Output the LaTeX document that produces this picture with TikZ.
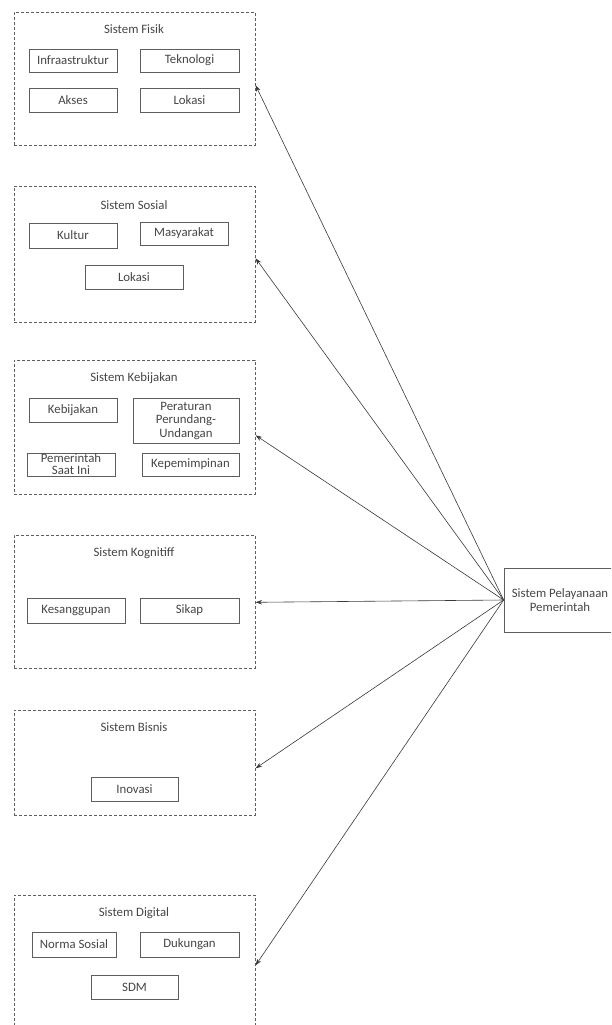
\documentclass[tikz,border=0pt]{standalone}
\usepackage{fontspec}
\setmainfont{Carlito}
\usetikzlibrary{arrows.meta}
\definecolor{ink}{HTML}{464646}
\definecolor{edge}{HTML}{5E5E5E}
\definecolor{wire}{HTML}{3A3A3A}

\begin{document}
\begin{tikzpicture}[x=1pt,y=-1pt,
  lbl/.style={font=\fontsize{12.8}{13.5}\selectfont, text=ink, inner sep=0pt, align=center},
  group/.style={draw=edge, dash pattern=on 3pt off 2pt, line width=0.6pt,
                inner sep=0pt, anchor=north west, minimum width=241},
  item/.style={draw=edge, line width=0.7pt, inner sep=1pt, lbl},
  link/.style={draw=wire, line width=0.6pt, -{Stealth[length=6.5pt,width=4.5pt]}}
]
\useasboundingbox (0,0) rectangle (611,1025);
\fill[white] (0,0) rectangle (611,1025);
\clip (0,0) rectangle (611,1025);

% Sistem Fisik
\node[group, minimum height=133] (fisik) at (14,12) {};
\node[lbl] (tfisik) at (134,29) {Sistem Fisik};
\node[item, minimum width=88, minimum height=23] (infra) at (73,60.5) {Infraastruktur};
\node[item, minimum width=99, minimum height=23] (tekno) at (189.5,60.5) {Teknologi};
\node[item, minimum width=88, minimum height=24] (akses) at (73,100) {Akses};
\node[item, minimum width=99, minimum height=24] (lokasia) at (189.5,100) {Lokasi};

% Sistem Sosial
\node[group, minimum height=136] (sosial) at (14,186) {};
\node[lbl] (tsosial) at (134,205) {Sistem Sosial};
\node[item, minimum width=88, minimum height=25] (kultur) at (73,235.5) {Kultur};
\node[item, minimum width=88, minimum height=23] (masy) at (184,233.5) {Masyarakat};
\node[item, minimum width=98, minimum height=24] (lokasib) at (134,277) {Lokasi};

% Sistem Kebijakan
\node[group, minimum height=134] (kebij) at (14,360) {};
\node[lbl] (tkebij) at (134,378) {Sistem Kebijakan};
\node[item, minimum width=88, minimum height=24] (kebijakan) at (73,410) {Kebijakan};
\node[item, minimum width=106, minimum height=45] (aturan) at (186,420.5) {Peraturan\\Perundang-\\Undangan};
\node[item, minimum width=88, minimum height=23] (pemerintah) at (71,464.5) {};
\node[lbl, font=\fontsize{12.8}{12}\selectfont] (tpemerintah) at (pemerintah) {Pemerintah\\Saat Ini};
\node[item, minimum width=97, minimum height=23] (pimpin) at (190.5,464.5) {Kepemimpinan};

% Sistem Kognitiff
\node[group, minimum height=133] (kognitif) at (14,535) {};
\node[lbl] (tkognitif) at (134,553) {Sistem Kognitiff};
\node[item, minimum width=98, minimum height=25] (sanggup) at (76,610.5) {Kesanggupan};
\node[item, minimum width=99, minimum height=25] (sikap) at (189.5,610.5) {Sikap};

% Sistem Bisnis
\node[group, minimum height=105] (bisnis) at (14,710) {};
\node[lbl] (tbisnis) at (134,727) {Sistem Bisnis};
\node[item, minimum width=87, minimum height=24] (inovasi) at (134.5,789) {Inovasi};

% Sistem Digital
\node[group, minimum height=150] (digital) at (14,895) {};
\node[lbl] (tdigital) at (134,913) {Sistem Digital};
\node[item, minimum width=84, minimum height=25] (norma) at (74,944.5) {Norma Sosial};
\node[item, minimum width=99, minimum height=25] (dukung) at (189.5,944.5) {Dukungan};
\node[item, minimum width=87, minimum height=24] (sdm) at (134.5,987) {SDM};

% Sistem Pelayanaan Pemerintah
\node[item, minimum width=112, minimum height=64] (layan) at (560,600) {Sistem Pelayanaan\\Pemerintah};

% Connectors
\draw[link] (layan.west) -- ([yshift=-6.5pt]fisik.east);
\draw[link] (layan.west) -- ([yshift=-4pt]sosial.east);
\draw[link] (layan.west) -- ([yshift=-8pt]kebij.east);
\draw[link] (layan.west) -- ([yshift=-0.5pt]kognitif.east);
\draw[link] (layan.west) -- ([yshift=-5.5pt]bisnis.east);
\draw[link] (layan.west) -- ([yshift=5pt]digital.east);
\end{tikzpicture}
\end{document}
